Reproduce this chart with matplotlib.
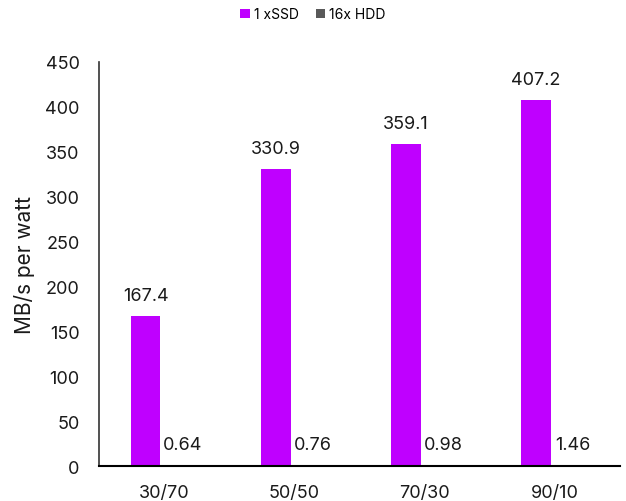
import matplotlib
matplotlib.use("Agg")
import matplotlib.pyplot as plt
import numpy as np

categories = ["30/70", "50/50", "70/30", "90/10"]
ssd_values = [167.4, 330.9, 359.1, 407.2]
hdd_values = [0.64, 0.76, 0.98, 1.46]
ssd_labels = ["167.4", "330.9", "359.1", "407.2"]
hdd_labels = ["0.64", "0.76", "0.98", "1.46"]
series_names = ["1 xSSD", "16x HDD"]
yticks = [0, 50, 100, 150, 200, 250, 300, 350, 400, 450]

plt.rcParams['font.family'] = ['Inter', 'DejaVu Sans']

fig = plt.figure(figsize=(6.26, 5.02), dpi=100)
ax = fig.add_axes([0.158, 0.0697, 0.832, 0.805])

x = np.arange(len(categories))
w = 0.23
off = 0.142
ssd_color = "#BF00FF"
hdd_color = "#595959"
b1 = ax.bar(x - off, ssd_values, w, color=ssd_color, label=series_names[0])
b2 = ax.bar(x + off, hdd_values, w, color=hdd_color, label=series_names[1])

for xi, v, lab in zip(x - off, ssd_values, ssd_labels):
    ax.annotate(lab, (xi, v), xytext=(0, 12), textcoords="offset pixels",
                ha="center", va="bottom", fontsize=13, color="#1a1a1a")
for xi, v, lab in zip(x + off, hdd_values, hdd_labels):
    ax.annotate(lab, (xi, v), xytext=(0, 12), textcoords="offset pixels",
                ha="center", va="bottom", fontsize=13, color="#1a1a1a")

ax.set_xlim(-0.5, 3.5)
ax.set_ylim(0, 450)
ax.set_yticks(yticks)
ax.set_xticks(x)
ax.set_xticklabels(categories)
ax.tick_params(axis="both", length=0, labelsize=13, colors="#1a1a1a")
ax.tick_params(axis="x", pad=13)
ax.tick_params(axis="y", pad=14)
for s in ["top", "right"]:
    ax.spines[s].set_visible(False)
ax.spines["left"].set_color("#333333")
ax.spines["left"].set_linewidth(1.2)
ax.spines["bottom"].set_color("black")
ax.spines["bottom"].set_linewidth(1.5)
ax.set_ylabel("MB/s per watt", fontsize=15, color="#1a1a1a")
ax.yaxis.set_label_coords(-0.123, 0.5)

fig.legend(handles=[b1, b2], labels=series_names, loc="upper center",
           bbox_to_anchor=(0.5, 1.008), ncol=2, frameon=False, fontsize=10,
           handlelength=0.7, handleheight=0.7, handletextpad=0.3, columnspacing=1.2)

fig.savefig("out.png", dpi=100)
